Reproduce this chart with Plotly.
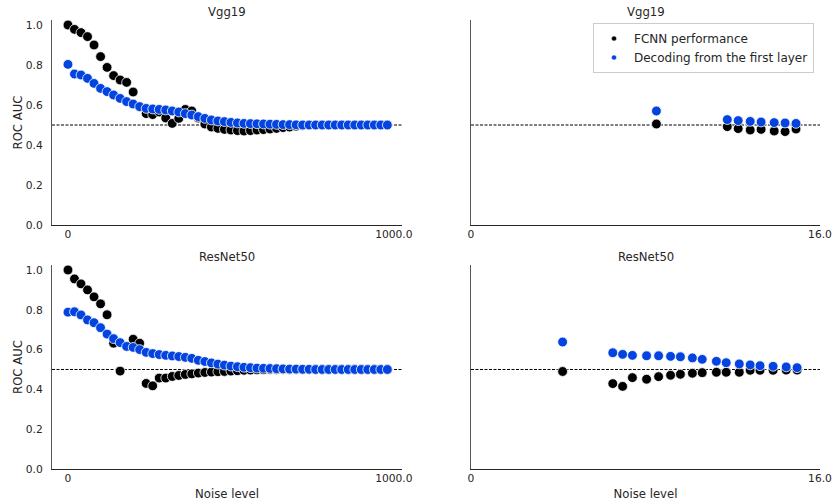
import plotly.graph_objects as go

# ---------------- data ----------------
noise_left = [0, 20, 40, 60, 80, 100, 120, 140, 160, 180, 200, 220, 240, 260, 280, 300, 320, 340, 360, 380,
              400, 420, 440, 460, 480, 500, 520, 540, 560, 580, 600, 620, 640, 660, 680, 700, 720, 740, 760, 780,
              800, 820, 840, 860, 880, 900, 920, 940, 960, 980]

vgg_fcnn_left = [1.0, .978, .962, .942, .90, .842, .788, .747, .725, .713, .665, .59, .557, .552, .565, .535, .508,
                 .533, .578, .570, .535, .505, .49, .483, .478, .475, .472, .470, .472, .475, .477, .480, .483, .487,
                 .490, .494, .497, .5, .5, .5, .5, .5, .5, .5, .5, .5, .5, .5, .5, .5]
vgg_dec_left = [.803, .755, .75, .733, .708, .683, .667, .65, .633, .617, .605, .592, .583, .58, .578, .575, .57,
                .565, .557, .55, .542, .533, .525, .52, .517, .513, .51, .508, .507, .506, .505, .504, .503, .502,
                .502, .501, .5, .5, .5, .5, .5, .5, .5, .5, .5, .5, .5, .5, .5, .5]

res_fcnn_left = [1.0, .955, .93, .9, .865, .83, .775, .632, .492, .615, .652, .632, .43, .418, .457, .457, .465,
                 .47, .475, .478, .482, .485, .487, .489, .49, .492, .494, .496, .497, .498, .499, .5, .5, .5, .5,
                 .5, .5, .5, .5, .5, .5, .5, .5, .5, .5, .5, .5, .5, .5, .5]
res_dec_left = [.788, .79, .774, .749, .735, .71, .678, .655, .635, .616, .611, .6, .586, .58, .575, .571, .568,
                .565, .561, .556, .546, .54, .533, .527, .522, .517, .514, .511, .509, .507, .506, .505, .504, .503,
                .502, .502, .501, .501, .5, .5, .5, .5, .5, .5, .5, .5, .5, .5, .5, .5]

noise_vgg_right = [8.5, 11.75, 12.25, 12.8, 13.3, 13.9, 14.4, 14.9]
vgg_fcnn_right = [.505, .492, .482, .475, .478, .47, .467, .48]
vgg_dec_right = [.57, .527, .522, .518, .515, .512, .51, .508]

noise_res_right = [4.2, 6.5, 6.95, 7.4, 8.05, 8.6, 9.15, 9.6, 10.15, 10.6, 11.25, 11.7, 12.3, 12.8, 13.25,
                   13.85, 14.45, 14.95]
res_fcnn_right = [.49, .429, .415, .459, .451, .464, .471, .476, .481, .484, .486, .486, .486, .496, .496,
                  .496, .497, .497]
res_dec_right = [.638, .584, .576, .571, .569, .569, .566, .564, .558, .551, .541, .534, .528, .523, .519,
                 .516, .513, .509]

titles = ["Vgg19", "Vgg19", "ResNet50", "ResNet50"]
series_names = ["FCNN performance", "Decoding from the first layer"]
chance_level = 0.5
y_ticks = [0.0, 0.2, 0.4, 0.6, 0.8, 1.0]
x_ticks_left = [0, 1000]
x_ticklabels_left = ["0", "1000.0"]
x_ticks_right = [0, 16]
x_ticklabels_right = ["0", "16.0"]

# ---------------- style ----------------
BLACK = "#000000"
BLUE = "#0343df"
TXT = "#262626"
FONT = "DejaVu Sans"
W, H = 834, 502

xdom_left = [52 / W, 402 / W]
xdom_right = [471 / W, 820 / W]
ydom_top = [1 - 225 / H, 1 - 20 / H]
ydom_bot = [1 - 469 / H, 1 - 265 / H]

panels = [
    (noise_left, vgg_fcnn_left, vgg_dec_left, "x", "y"),
    (noise_vgg_right, vgg_fcnn_right, vgg_dec_right, "x2", "y2"),
    (noise_left, res_fcnn_left, res_dec_left, "x3", "y3"),
    (noise_res_right, res_fcnn_right, res_dec_right, "x4", "y4"),
]

fig = go.Figure()
for xs, fc, dec, xa, ya in panels:
    fig.add_trace(go.Scatter(x=xs, y=fc, mode="markers", xaxis=xa, yaxis=ya, showlegend=False,
                             marker=dict(color=BLACK, size=9.8, line=dict(color="white", width=0.8))))
    fig.add_trace(go.Scatter(x=xs, y=dec, mode="markers", xaxis=xa, yaxis=ya, showlegend=False,
                             marker=dict(color=BLUE, size=9.8, line=dict(color="white", width=0.8))))

# legend-only traces
for name, col in zip(series_names, [BLACK, BLUE]):
    fig.add_trace(go.Scatter(x=[None], y=[None], mode="markers", name=name, xaxis="x2", yaxis="y2",
                             marker=dict(color=col, size=5, line=dict(color="white", width=0.5))))


def xaxis(dom, anchor, rng, tv, tt, title=None):
    d = dict(domain=dom, anchor=anchor, range=rng, tickvals=tv, ticktext=tt,
             showgrid=False, zeroline=False, showline=True, linecolor="#262626", linewidth=1.2,
             ticks="", ticklabelstandoff=-1, tickfont=dict(family=FONT, size=10.7, color=TXT))
    if title:
        d["title"] = dict(text=title, font=dict(family=FONT, size=11.7, color=TXT), standoff=5)
    return d


def yaxis(dom, anchor, labels, title=None):
    d = dict(domain=dom, anchor=anchor, range=[0, 1.025], tickvals=y_ticks,
             ticktext=[f"{v:.1f}" for v in y_ticks], showticklabels=labels,
             showgrid=False, zeroline=False, showline=True, linecolor="#555555", linewidth=1.2,
             ticks="", ticklabelstandoff=6, tickfont=dict(family=FONT, size=10.7, color=TXT))
    if title:
        d["title"] = dict(text=title, font=dict(family=FONT, size=11.7, color=TXT), standoff=0)
    return d


xr_left = [-49, 1025]
xr_right = [0, 16]
fig.update_layout(
    autosize=True, margin=dict(l=0, r=0, t=0, b=0, autoexpand=False),
    paper_bgcolor="white", plot_bgcolor="white",
    xaxis=xaxis(xdom_left, "y", xr_left, x_ticks_left, x_ticklabels_left),
    yaxis=yaxis(ydom_top, "x", True, "ROC AUC"),
    xaxis2=xaxis(xdom_right, "y2", xr_right, x_ticks_right, x_ticklabels_right),
    yaxis2=yaxis(ydom_top, "x2", False),
    xaxis3=xaxis(xdom_left, "y3", xr_left, x_ticks_left, x_ticklabels_left, "Noise level"),
    yaxis3=yaxis(ydom_bot, "x3", True, "ROC AUC"),
    xaxis4=xaxis(xdom_right, "y4", xr_right, x_ticks_right, x_ticklabels_right, "Noise level"),
    yaxis4=yaxis(ydom_bot, "x4", False),
    legend=dict(x=814 / W, xanchor="right", y=1 - 23 / H, yanchor="top",
                bgcolor="white", bordercolor="#cccccc", borderwidth=1,
                font=dict(family=FONT, size=12, color=TXT), itemsizing="trace",
                tracegroupgap=0),
    showlegend=True,
)

# chance-level dashed lines
for xa, ya in [("x", "y"), ("x2", "y2"), ("x3", "y3"), ("x4", "y4")]:
    fig.add_shape(type="line", xref=f"{xa} domain", yref=ya, x0=0, x1=1, y0=chance_level, y1=chance_level,
                  line=dict(color="black", width=1, dash="3px,1.5px"), layer="below")

# subplot titles
title_pos = [(xdom_left, ydom_top), (xdom_right, ydom_top), (xdom_left, ydom_bot), (xdom_right, ydom_bot)]
for t, (xd, yd) in zip(titles, title_pos):
    fig.add_annotation(text=t, x=(xd[0] + xd[1]) / 2, y=yd[1], xref="paper", yref="paper",
                       xanchor="center", yanchor="bottom", yshift=-1, showarrow=False,
                       font=dict(family=FONT, size=11.7, color=TXT))

post = (
    "var gd=document.getElementById('{plot_id}');"
    "var h=document.documentElement, b=document.body;"
    "h.style.margin='0';h.style.padding='0';h.style.overflow='hidden';h.style.height='100%';"
    "b.style.margin='0';b.style.padding='0';b.style.overflow='hidden';b.style.height='100%';"
    "gd.style.position='fixed';gd.style.left='0px';gd.style.top='0px';"
    "gd.style.width='100vw';gd.style.height='100vh';"
    "Plotly.Plots.resize(gd);"
)
fig.write_html("out.html", post_script=post, default_width="100%", default_height="100%",
               config={"responsive": True})
